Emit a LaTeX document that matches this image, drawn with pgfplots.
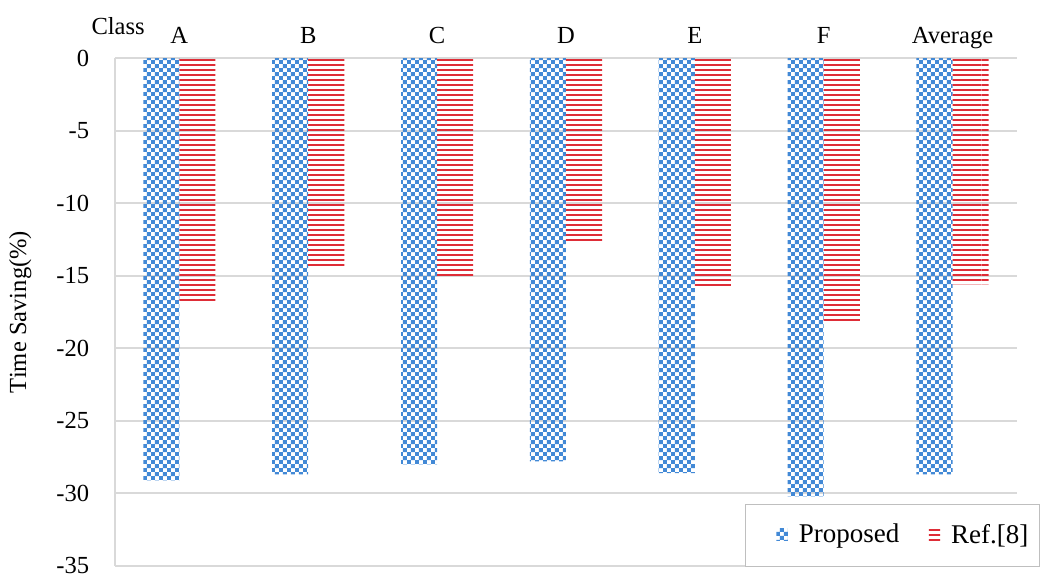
\documentclass[border=0pt]{standalone}
\usepackage{fontspec}
\setmainfont{Liberation Serif}
\usepackage{pgfplots}
\usepackage{pgfplotstable}
\pgfplotsset{compat=1.18}
\usetikzlibrary{patterns,calc}
\definecolor{pblue}{RGB}{66,137,214}
\definecolor{pred}{RGB}{222,45,55}
\definecolor{gridgray}{RGB}{217,217,217}
\pgfdeclarepatternformonly{smallchecker}{\pgfpointorigin}{\pgfqpoint{3.2574pt}{3.2574pt}}{\pgfqpoint{3.2574pt}{3.2574pt}}{%
 \pgfpathrectangle{\pgfpointorigin}{\pgfqpoint{1.6287pt}{1.6287pt}}%
 \pgfpathrectangle{\pgfqpoint{1.6287pt}{1.6287pt}}{\pgfqpoint{1.6287pt}{1.6287pt}}%
 \pgfusepath{fill}}
\pgfdeclarepatternformonly{redlines}{\pgfpointorigin}{\pgfqpoint{200pt}{2.0359pt}}{\pgfqpoint{200pt}{2.0359pt}}{%
 \pgfpathrectangle{\pgfpointorigin}{\pgfqpoint{200pt}{0.9pt}}%
 \pgfusepath{fill}}
\pgfplotstableread{
x prop ref
0 -29.1 -16.9
1 -28.7 -14.5
2 -28.0 -15.2
3 -27.8 -12.8
4 -28.6 -15.9
5 -30.2 -18.2
6 -28.7 -15.6
}\data
\begin{document}
\begin{tikzpicture}
\useasboundingbox (0,0) rectangle (425.1pt,234.5pt);
\begin{axis}[
  name=main,
  at={(46.8pt,4.07pt)}, anchor=south west,
  scale only axis, width=367.3pt, height=206.8pt,
  ybar=0pt, bar width=0.28,
  xmin=-0.5, xmax=6.5, ymin=-35, ymax=0,
  xtick=data, xticklabels={A,B,C,D,E,F,Average},
  ytick={-35,-30,...,0},
  axis x line*=top, axis y line*=left,
  axis line style={-, draw=gridgray, line width=0.8pt},
  ymajorgrids, grid style={draw=gridgray, line width=0.8pt},
  major tick length=0pt, tick style={draw=none},
  tick label style={font=\fontsize{10}{12}\selectfont},
  /pgf/number format/assume math mode=true,
  xticklabel style={text height=1.6ex, text depth=0.3ex, yshift=1pt},
  yticklabel style={xshift=-7pt},
  ylabel={Time Saving(\%)},
  ylabel style={at={(axis description cs:-0.105,0.5)}, anchor=center, font=\fontsize{10}{12}\selectfont},
  legend columns=2,
  legend style={at={(rel axis cs:1.0255,-0.002)}, anchor=south east, draw=gray!50,
    font=\fontsize{11}{13}\selectfont, inner ysep=6pt, inner xsep=2.5pt,
    /tikz/every odd column/.append style={column sep=2.5pt},
    /tikz/every even column/.append style={column sep=0pt},
    cells={anchor=west}},
  legend image code/.code={\path (-10pt,0pt); \fill[#1] (0pt,-2.2pt) rectangle (4.6pt,2.8pt);},
]
\addplot[draw=none, pattern=smallchecker, pattern color=pblue] table[x=x,y=prop]{\data};
\addplot[draw=none, pattern=redlines, pattern color=pred] table[x=x,y=ref]{\data};
\legend{Proposed,Ref.[8]}
\end{axis}
\node[font=\fontsize{10}{12}\selectfont, anchor=base] at ($(main.north west)+(1.3pt,9.5pt)$) {Class};
\end{tikzpicture}
\end{document}
